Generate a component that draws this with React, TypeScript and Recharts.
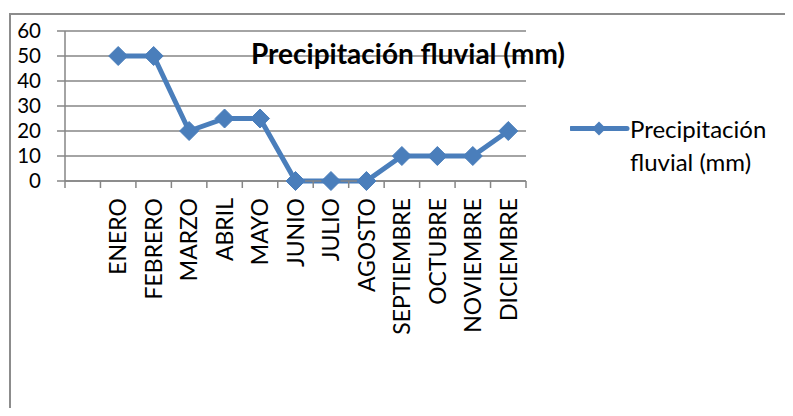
import { LineChart, Line, XAxis, YAxis, CartesianGrid } from "recharts";

const meses = [
  "",
  "ENERO",
  "FEBRERO",
  "MARZO",
  "ABRIL",
  "MAYO",
  "JUNIO",
  "JULIO",
  "AGOSTO",
  "SEPTIEMBRE",
  "OCTUBRE",
  "NOVIEMBRE",
  "DICIEMBRE",
];
const precipitacion: (number | null)[] = [null, 50, 50, 20, 25, 25, 0, 0, 0, 10, 10, 10, 20];
const yTicks = [0, 10, 20, 30, 40, 50, 60];

const serie = "Precipitación fluvial (mm)";
const AZUL = "#4A7EBB";
const GRIS = "#868686";
const HALF = 461 / meses.length / 2;

const data = meses.map((mes, i) => ({ mes, valor: precipitacion[i] }));

function Diamond(props: any) {
  const { cx, cy, value } = props;
  if (value == null || cx == null || cy == null) return <g />;
  const r = 9.5;
  return (
    <polygon
      points={`${cx},${cy - r} ${cx + r},${cy} ${cx},${cy + r} ${cx - r},${cy}`}
      fill={AZUL}
      stroke={AZUL}
      strokeWidth={1}
    />
  );
}

function MesTick(props: any) {
  const { x, y, payload, index } = props;
  const ty = y + 17;
  return (
    <g>
      <line x1={x - HALF} y1={y} x2={x - HALF} y2={y + 7} stroke={GRIS} strokeWidth={1.5} />
      {index === meses.length - 1 && (
        <line x1={x + HALF} y1={y} x2={x + HALF} y2={y + 7} stroke={GRIS} strokeWidth={1.5} />
      )}
      <text
        x={x}
        y={ty}
        transform={`rotate(-90, ${x}, ${ty})`}
        textAnchor="end"
        dy="0.36em"
        fontSize={23}
        fill="#000"
      >
        {payload.value}
      </text>
    </g>
  );
}

function Leyenda() {
  return (
    <div style={{ position: "absolute", left: 562, top: 104, display: "flex", alignItems: "flex-start" }}>
      <svg width={60} height={33}>
        <line x1={1} y1={16.5} x2={57} y2={16.5} stroke={AZUL} strokeWidth={5} strokeLinecap="round" />
        <polygon points="29,9.5 36,16.5 29,23.5 22,16.5" fill={AZUL} />
      </svg>
      <div style={{ fontSize: 24, lineHeight: "33px", color: "#000", width: 150 }}>
        Precipitación
        <br />
        fluvial (mm)
      </div>
    </div>
  );
}

export default function App() {
  return (
    <div
      style={{
        position: "relative",
        width: 777,
        height: 400,
        overflow: "hidden",
        fontFamily: "Lato, 'Noto Sans', sans-serif",
      }}
    >
      <div
        style={{
          position: "absolute",
          left: 1,
          top: 5,
          width: 900,
          height: 600,
          borderTop: "2px solid #8c8c8c",
          borderLeft: "2px solid #8c8c8c",
        }}
      />
      <div style={{ position: "absolute", left: 0, top: 0 }}>
        <LineChart width={777} height={400} data={data} margin={{ top: 23, right: 259, bottom: 0, left: 0 }}>
          <CartesianGrid vertical={false} stroke={GRIS} strokeWidth={1.5} />
          <XAxis
            dataKey="mes"
            interval={0}
            tickLine={false}
            tickSize={0}
            tickMargin={0}
            height={227}
            padding={{ left: HALF, right: HALF }}
            axisLine={{ stroke: GRIS, strokeWidth: 1.5 }}
            tick={<MesTick />}
          />
          <YAxis
            domain={[0, 60]}
            ticks={yTicks}
            width={57}
            tickSize={8}
            tickMargin={16}
            interval={0}
            axisLine={{ stroke: GRIS, strokeWidth: 1.5 }}
            tickLine={{ stroke: GRIS, strokeWidth: 1.5 }}
            tick={{ fill: "#000", fontSize: 20.5 }}
          />
          <Line
            dataKey="valor"
            name={serie}
            stroke={AZUL}
            strokeWidth={5}
            dot={<Diamond />}
            activeDot={false}
            connectNulls={false}
            isAnimationActive={false}
          />
          <text x={400} y={56} textAnchor="middle" fontSize={28} fontWeight="bold" fill="#000">
            {serie}
          </text>
        </LineChart>
      </div>
      <Leyenda />
    </div>
  );
}
